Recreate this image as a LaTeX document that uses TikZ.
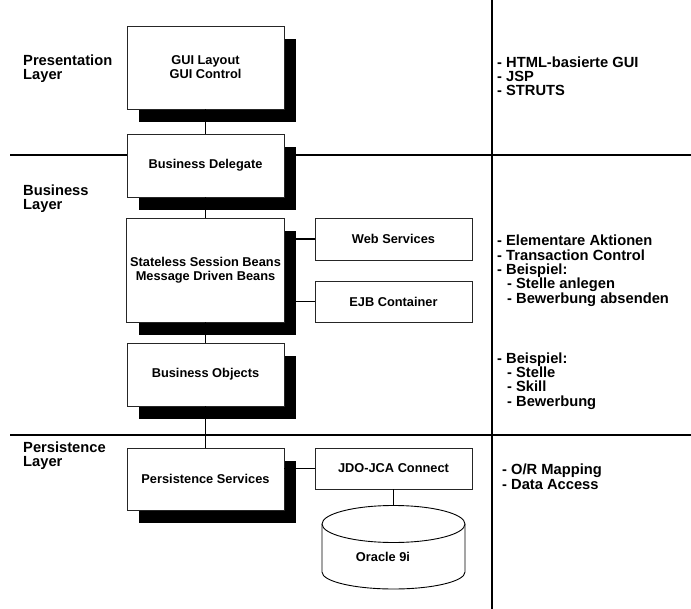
\documentclass[tikz,border=0pt]{standalone}
\usepackage{fontspec}
\setmainfont{Liberation Sans}
\usetikzlibrary{shadows}
\tikzset{
  layerbox/.style={draw=black!85,line width=0.9pt,fill=white,minimum width=157pt,align=center,
    font=\fontsize{12.8}{14}\selectfont\bfseries,
    drop shadow={shadow xshift=12pt,shadow yshift=-13pt,fill=black,opacity=1}},
  sidebox/.style={draw=black!85,line width=0.9pt,fill=white,minimum width=157pt,
    font=\fontsize{12.8}{14}\selectfont\bfseries},
  bigtext/.style={anchor=north west,align=left,inner sep=0pt,font=\fontsize{14.7}{14.3}\selectfont\bfseries},
  link/.style={line width=1.6pt}
}
\begin{document}
\begin{tikzpicture}[x=1pt,y=-1pt]
  \useasboundingbox (0,0) rectangle (691,609);
  \draw[line width=1.1pt](10,155)--(691,155);
  \draw[line width=1.1pt](10,435)--(691,435);
  \draw[line width=1.2pt](492,0)--(492,609);
  \node[bigtext] (preslabel) at (23,54.5) {Presentation\\Layer};
  \node[bigtext] (buslabel) at (23,184.5) {Business\\Layer};
  \node[bigtext] (perslabel) at (23,441.5) {Persistence\\Layer};
  \node[layerbox,minimum height=83pt] (gui) at (205.5,67.5) {GUI Layout\\GUI Control};
  \node[layerbox,minimum height=63pt] (deleg) at (205.5,165.5) {Business Delegate};
  \node[layerbox,minimum height=104pt] (ssb) at (205.5,270) {Stateless Session Beans\\Message Driven Beans};
  \node[layerbox,minimum height=63pt] (bo) at (205.5,374.5) {Business Objects};
  \node[layerbox,minimum height=62pt] (ps) at (205.5,479) {Persistence Services};
  \node[sidebox,minimum height=42pt] (web) at (393.5,239) {Web Services};
  \node[sidebox,minimum height=41pt] (ejb) at (393.5,301.5) {EJB Container};
  \node[sidebox,minimum height=41pt] (jdo) at (393.5,468.5) {JDO-JCA Connect};
  \draw[line width=0.9pt,fill=white](322,524)--(322,572) arc[start angle=180,end angle=0,x radius=71.5,y radius=17]--(465,524);
  \draw[line width=0.9pt,fill=white](393.5,524) ellipse[x radius=71.5,y radius=18.5];
  \coordinate (dbtop) at (393.5,505.5);
  \node[font=\fontsize{12.8}{14}\selectfont\bfseries] (ora) at (383,557) {Oracle 9i};
  \draw[link](gui.south)--(deleg.north);
  \draw[link](deleg.south)--(ssb.north);
  \draw[link](ssb.south)--(bo.north);
  \draw[link](bo.south)--(ps.north);
  \draw[link](web.west)--(web.west -| ssb.east);
  \draw[link](ejb.west)--(ejb.west -| ssb.east);
  \draw[link](jdo.west)--(jdo.west -| ps.east);
  \draw[link](jdo.south)--(dbtop);
  \node[bigtext] (presnotes) at (497,56.5) {- HTML-basierte GUI\\- JSP\\- STRUTS};
  \node[bigtext] (busnotes) at (497,235) {- Elementare Aktionen\\- Transaction Control\\- Beispiel:\\\hspace*{10pt}- Stelle anlegen\\\hspace*{10pt}- Bewerbung absenden};
  \node[bigtext] (bonotes) at (497,352.5) {- Beispiel:\\\hspace*{10pt}- Stelle\\\hspace*{10pt}- Skill\\\hspace*{10pt}- Bewerbung};
  \node[bigtext] (psnotes) at (502,464) {- O/R Mapping\\- Data Access};
\end{tikzpicture}
\end{document}
